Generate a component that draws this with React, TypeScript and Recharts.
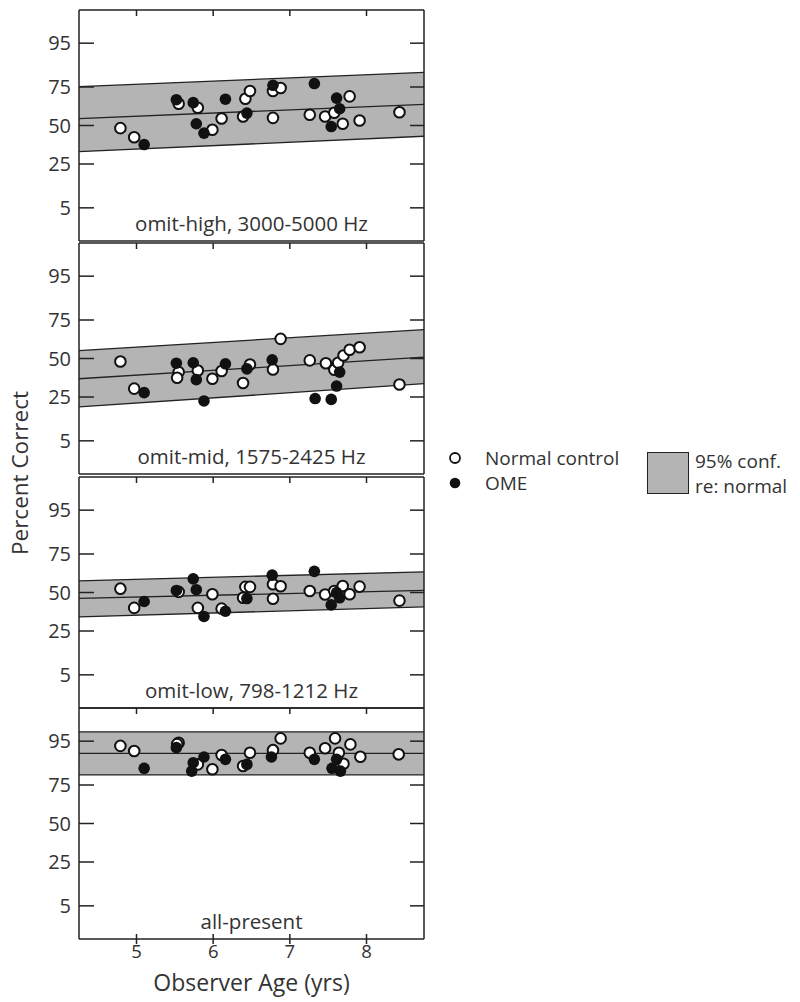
import { ComposedChart, Area, Line, Scatter, XAxis, YAxis, Label } from 'recharts';

const FONT = '"Open Sans", Lato, sans-serif';
const INK = '#222';
const BAND = '#b4b4b4';

// axes
const ageDomain = [4.25, 8.75];
const ageTicks = [5, 6, 7, 8];
const pctTicks = [5, 25, 50, 75, 95];

const panelNames = ['omit-high, 3000-5000 Hz', 'omit-mid, 1575-2425 Hz', 'omit-low, 798-1212 Hz', 'all-present'];

// 95% conf. band re: normal, percent at age 4.25 and 8.75 -> [lo, mid, hi]
const bandHigh = [[32.6, 54.7, 75.2], [42.7, 64.2, 83.1]];
const bandMid = [[19.4, 36.4, 55.4], [33.2, 50.9, 69.1]];
const bandLow = [[33.7, 46.0, 57.9], [40.3, 51.5, 63.9]];
const bandAll = [[80.7, 90.8, 97.4], [80.7, 90.8, 97.4]];

// [age, percent correct]
const normalHigh = [[4.79, 48.2], [4.97, 42.0], [5.55, 64.6], [5.8, 62.0], [5.99, 47.1], [6.11, 54.8], [6.39, 56.1], [6.42, 67.8], [6.48, 72.6], [6.78, 72.6], [6.78, 55.2], [6.88, 74.4], [7.26, 57.3], [7.46, 56.1], [7.58, 58.6], [7.69, 51.2], [7.78, 69.3], [7.91, 53.4], [8.43, 59.0]];
const omeHigh = [[5.1, 37.2], [5.52, 67.2], [5.74, 65.3], [5.78, 51.2], [5.88, 44.8], [6.16, 67.5], [6.44, 58.4], [6.78, 76.0], [7.32, 77.0], [7.54, 49.3], [7.61, 68.2], [7.65, 61.3]];

const normalMid = [[4.79, 48.0], [4.97, 30.1], [5.55, 40.8], [5.53, 37.1], [5.8, 41.9], [5.99, 36.4], [6.11, 41.5], [6.39, 33.6], [6.48, 45.9], [6.78, 42.6], [6.88, 63.2], [7.26, 48.7], [7.47, 46.8], [7.58, 42.4], [7.63, 47.1], [7.7, 52.0], [7.78, 55.9], [7.91, 57.6], [8.43, 32.7]];
const omeMid = [[5.1, 27.6], [5.52, 46.8], [5.74, 47.1], [5.78, 35.8], [5.88, 22.7], [6.16, 46.4], [6.44, 43.0], [6.77, 49.1], [7.33, 24.1], [7.54, 23.6], [7.61, 31.7], [7.65, 40.8]];

const normalLow = [[4.79, 52.6], [4.97, 39.6], [5.55, 50.4], [5.8, 39.6], [5.99, 48.8], [6.11, 39.1], [6.39, 46.4], [6.42, 53.8], [6.48, 53.8], [6.78, 55.6], [6.78, 45.8], [6.88, 54.2], [7.26, 51.0], [7.46, 48.6], [7.58, 51.0], [7.69, 54.4], [7.78, 48.8], [7.91, 54.0], [8.43, 44.5]];
const omeLow = [[5.1, 43.9], [5.52, 51.4], [5.74, 59.2], [5.78, 51.9], [5.88, 34.0], [6.16, 37.4], [6.44, 45.9], [6.77, 61.7], [7.32, 64.2], [7.54, 41.6], [7.61, 49.9], [7.65, 46.4]];

const normalAll = [[4.79, 93.5], [4.97, 91.7], [5.55, 94.5], [5.53, 94.1], [5.8, 86.0], [5.99, 83.6], [6.11, 90.1], [6.39, 85.2], [6.48, 91.0], [6.78, 92.0], [6.88, 95.8], [7.26, 91.0], [7.46, 92.7], [7.59, 95.8], [7.64, 91.0], [7.7, 86.3], [7.79, 94.0], [7.92, 89.4], [8.42, 90.4]];
const omeAll = [[5.1, 84.1], [5.52, 92.9], [5.72, 82.7], [5.74, 86.8], [5.88, 89.3], [6.16, 88.3], [6.44, 86.0], [6.76, 89.3], [7.32, 88.3], [7.55, 84.1], [7.61, 88.3], [7.66, 82.7]];

const bands = [bandHigh, bandMid, bandLow, bandAll];
const normals = [normalHigh, normalMid, normalLow, normalAll];
const omes = [omeHigh, omeMid, omeLow, omeAll];

// arcsine transform so the y axis is in arcsine units
const tr = (p: number) => Math.asin(Math.sqrt(p / 100));
const untr = (v: number) => Math.round(100 * Math.sin(v) ** 2);
const yTicks = pctTicks.map(tr);

const PANEL_H = 231;
const panelTops = [10, 243, 477, 708];

const toPts = (arr: number[][]) => arr.map(([age, pct]) => ({ age, pct }));

const OpenDot = (p: any) => <circle cx={p.cx} cy={p.cy} r={5.3} fill="#fff" stroke="#111" strokeWidth={2} />;
const FilledDot = (p: any) => <circle cx={p.cx} cy={p.cy} r={5.8} fill="#111" />;

// inward ticks, drawn from the tick anchor the axis hands over
const LeftTick = (p: any) => (
  <g>
    <line x1={p.x} x2={p.x + 15} y1={p.y} y2={p.y} stroke={INK} strokeWidth={1.5} />
    <text x={p.x - 8} y={p.y} dy="0.36em" textAnchor="end" fontSize={20} fill="#333" fontFamily={FONT}>
      {untr(p.payload.value)}
    </text>
  </g>
);
const RightTick = (p: any) => <line x1={p.x} x2={p.x - 14} y1={p.y} y2={p.y} stroke={INK} strokeWidth={1.5} />;
const TopTick = (p: any) => <line x1={p.x} x2={p.x} y1={p.y} y2={p.y + 6} stroke={INK} strokeWidth={1.5} />;
const BottomTick = (p: any) => (
  <g>
    <line x1={p.x} x2={p.x} y1={p.y - 5} y2={p.y + 5} stroke={INK} strokeWidth={1.5} />
    <text x={p.x} y={p.y + 6} dy="0.72em" textAnchor="middle" fontSize={18.5} fill="#333" fontFamily={FONT}>
      {p.payload.value}
    </text>
  </g>
);

function Panel({ idx }: { idx: number }) {
  const last = idx === 3;
  const band = bands[idx];
  const data = [
    { age: ageDomain[0], lo: band[0][0], mid: band[0][1], hi: band[0][2] },
    { age: ageDomain[1], lo: band[1][0], mid: band[1][1], hi: band[1][2] },
  ];
  const top = panelTops[idx];
  const yDomain = [0, Math.PI / 2];
  const axisCommon = { tickLine: false, tickSize: 0, tickMargin: 0, interval: 0 as const, stroke: INK, axisLine: { strokeWidth: 1.5 }, allowDataOverflow: true };
  return (
    <div style={{ position: 'absolute', left: 0, top: top - 1 }}>
      <ComposedChart width={440} height={PANEL_H + 2 + (last ? 62 : 0)} data={data} margin={{ top: 0, right: 15, bottom: 0, left: 19 }}>
        <XAxis xAxisId="b" dataKey="age" type="number" domain={ageDomain} ticks={ageTicks} height={last ? 63 : 1} tick={last ? BottomTick : false} {...axisCommon}>
          {last && <Label value="Observer Age (yrs)" position="insideBottom" offset={11} style={{ fontSize: 23, fill: '#333', fontFamily: FONT }} />}
        </XAxis>
        <XAxis xAxisId="t" orientation="top" dataKey="age" type="number" domain={ageDomain} ticks={ageTicks} height={1} tick={TopTick} {...axisCommon} />
        <YAxis yAxisId="l" type="number" domain={yDomain} ticks={yTicks} width={60} tick={LeftTick} {...axisCommon} />
        <YAxis yAxisId="r" orientation="right" type="number" domain={yDomain} ticks={yTicks} width={1} tick={RightTick} {...axisCommon} />
        <Area xAxisId="t" yAxisId="r" type="linear" dataKey={(d: any) => [tr(d.lo), tr(d.hi)]} fill={BAND} fillOpacity={1} stroke="none" isAnimationActive={false} />
        <Line xAxisId="b" yAxisId="l" type="linear" dataKey={(d: any) => tr(d.lo)} stroke={INK} strokeWidth={1.3} dot={false} isAnimationActive={false} />
        <Line xAxisId="b" yAxisId="l" type="linear" dataKey={(d: any) => tr(d.mid)} stroke={INK} strokeWidth={1.3} dot={false} isAnimationActive={false} />
        <Line xAxisId="b" yAxisId="l" type="linear" dataKey={(d: any) => tr(d.hi)} stroke={INK} strokeWidth={1.3} dot={false} isAnimationActive={false} />
        <Scatter xAxisId="b" yAxisId="l" data={toPts(normals[idx])} dataKey={(d: any) => tr(d.pct)} shape={OpenDot} isAnimationActive={false} />
        <Scatter xAxisId="b" yAxisId="l" data={toPts(omes[idx])} dataKey={(d: any) => tr(d.pct)} shape={FilledDot} isAnimationActive={false} />
      </ComposedChart>
      <div style={{ position: 'absolute', left: 79, width: 345, top: 201, textAlign: 'center', fontSize: 20.5, color: '#333', fontFamily: FONT, lineHeight: '26px' }}>
        {panelNames[idx]}
      </div>
    </div>
  );
}

export default function App() {
  const txt = { position: 'absolute' as const, fontSize: 19, color: '#333', fontFamily: FONT, lineHeight: '24px', whiteSpace: 'nowrap' as const };
  return (
    <div style={{ position: 'absolute', left: 0, top: 0, width: 800, height: 1002, background: '#fff' }}>
      {[0, 1, 2, 3].map((i) => (
        <Panel key={i} idx={i} />
      ))}
      <div style={{ ...txt, fontSize: 22.5, left: 20, top: 473, transform: 'translate(-50%, -50%) rotate(-90deg)' }}>Percent Correct</div>
      <svg style={{ position: 'absolute', left: 440, top: 445 }} width={30} height={50}>
        <circle cx={15} cy={13} r={5} fill="#fff" stroke="#111" strokeWidth={1.8} />
        <circle cx={15} cy={38} r={5.3} fill="#111" />
      </svg>
      <div style={{ ...txt, left: 485, top: 446 }}>Normal control</div>
      <div style={{ ...txt, left: 485, top: 471 }}>OME</div>
      <div style={{ position: 'absolute', left: 647, top: 452, width: 40, height: 40, background: BAND, border: '1.5px solid #222' }} />
      <div style={{ ...txt, left: 695, top: 449 }}>95% conf.</div>
      <div style={{ ...txt, left: 695, top: 474 }}>re: normal</div>
    </div>
  );
}
